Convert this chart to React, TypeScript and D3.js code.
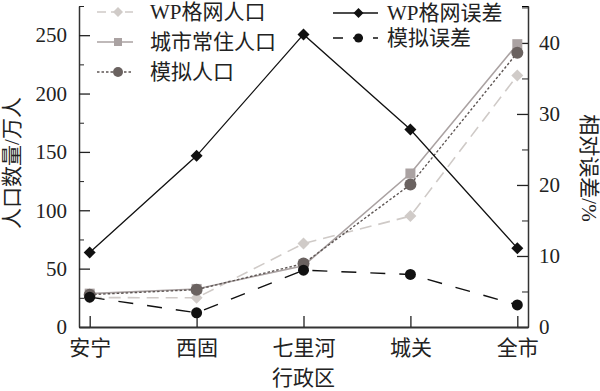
import React, { useEffect, useRef } from 'react'
import * as d3 from 'd3'

// data section
const districts = ['安宁', '西固', '七里河', '城关', '全市']
const wpPop = [25.2, 25, 71.5, 95, 215.5]
const cityPop = [28.6, 32.6, 52.5, 131.5, 242.3]
const simPop = [27.7, 32, 54.3, 122, 235]
const wpErr = [10.5, 24.1, 41.2, 27.8, 11.1]
const simErr = [4.2, 2.0, 8.0, 7.4, 3.1]
const leftTicks = [0, 50, 100, 150, 200, 250]
const rightTicks = [0, 10, 20, 30, 40]

const FONT = '"Liberation Serif", "Noto Sans CJK SC", serif'

const App = () => {
  const svgRef = useRef(null)
  const width = 600
  const height = 391
  const margin = { top: 6, right: 72, bottom: 64, left: 79 }
  const innerWidth = width - margin.left - margin.right
  const innerHeight = height - margin.top - margin.bottom

  useEffect(() => {
    const svg = d3.select(svgRef.current)
    svg.selectAll('*').remove()
    const chart = svg.append('g').attr('transform', `translate(${margin.left}, ${margin.top})`)

    const xScale = d3.scalePoint().domain(districts).range([0, innerWidth]).padding(0.1)
    const yLeft = d3.scaleLinear().domain([0, 275]).range([innerHeight, 0])
    const yRight = d3.scaleLinear().domain([0, 45.2]).range([innerHeight, 0])

    // minor ticks
    chart.append('g').call(d3.axisLeft(yLeft).tickValues([25, 75, 125, 175, 225, 275]).tickSize(-5).tickFormat(() => ''))
    chart
      .append('g')
      .attr('transform', `translate(${innerWidth}, 0)`)
      .call(d3.axisRight(yRight).tickValues([5, 15, 25, 35, 45]).tickSize(-6).tickFormat(() => ''))

    // main axes
    const yLeftG = chart
      .append('g')
      .call(d3.axisLeft(yLeft).tickValues(leftTicks).tickSizeInner(-11).tickSizeOuter(0).tickPadding(12))
    const yRightG = chart
      .append('g')
      .attr('transform', `translate(${innerWidth}, 0)`)
      .call(d3.axisRight(yRight).tickValues(rightTicks).tickSizeInner(-11).tickSizeOuter(0).tickPadding(11))
    const xG = chart
      .append('g')
      .attr('transform', `translate(0, ${innerHeight})`)
      .call(d3.axisBottom(xScale).tickSizeInner(-11).tickSizeOuter(0).tickPadding(13))

    ;[yLeftG, yRightG, xG].forEach((g) => {
      g.selectAll('text').attr('font-family', FONT).attr('font-size', 21).attr('fill', '#222')
      g.selectAll('line').attr('stroke', '#222').attr('stroke-width', 1.3)
      g.select('.domain').attr('stroke', '#333').attr('stroke-width', 1.5)
    })
    xG.select('.domain').attr('stroke-width', 2.2)
    chart.selectAll('.tick line').attr('stroke', '#222')

    const drawSeries = (values, yScale, opts) => {
      const line = d3
        .line()
        .x((d, i) => xScale(districts[i]))
        .y((d) => yScale(d))
      chart
        .append('path')
        .datum(values)
        .attr('d', line)
        .attr('fill', 'none')
        .attr('stroke', opts.color)
        .attr('stroke-width', opts.width)
        .attr('stroke-dasharray', opts.dash)
      const pts = values.map((v, i) => [xScale(districts[i]), yScale(v)])
      drawMarkers(chart, pts, opts)
    }

    const drawMarkers = (g, pts, opts) => {
      pts.forEach(([x, y]) => {
        if (opts.shape === 'circle') {
          g.append('circle').attr('cx', x).attr('cy', y).attr('r', opts.size).attr('fill', opts.mColor)
        } else if (opts.shape === 'square') {
          g.append('rect')
            .attr('x', x - opts.size)
            .attr('y', y - opts.size)
            .attr('width', opts.size * 2)
            .attr('height', opts.size * 2)
            .attr('fill', opts.mColor)
        } else {
          const s = opts.size
          g.append('path')
            .attr('d', `M${x},${y - s}L${x + s},${y}L${x},${y + s}L${x - s},${y}Z`)
            .attr('fill', opts.mColor)
        }
      })
    }

    const series = [
      { name: 'WP格网人口', values: wpPop, scale: yLeft, color: '#cfcac7', mColor: '#d0cbc8', width: 1.6, dash: '12,7', shape: 'diamond', size: 6 },
      { name: '城市常住人口', values: cityPop, scale: yLeft, color: '#aaa2a2', mColor: '#aaa2a2', width: 1.6, dash: null, shape: 'square', size: 5 },
      { name: '模拟人口', values: simPop, scale: yLeft, color: '#5e5654', mColor: '#6a6260', width: 1.4, dash: '2.5,2', shape: 'circle', size: 6 },
      { name: 'WP格网误差', values: wpErr, scale: yRight, color: '#111', mColor: '#111', width: 1.3, dash: null, shape: 'diamond', size: 6 },
      { name: '模拟误差', values: simErr, scale: yRight, color: '#111', mColor: '#111', width: 1.4, dash: '15,14', shape: 'circle', size: 5.5 },
    ]
    series.forEach((s) => drawSeries(s.values, s.scale, s))

    // legend
    const legendPos = [
      { x: 97, y: 12 },
      { x: 97, y: 42 },
      { x: 97, y: 72 },
      { x: 333, y: 13 },
      { x: 333, y: 38 },
    ]
    series.forEach((s, i) => {
      const p = legendPos[i]
      const lw = i < 3 ? 36 : 45
      const lg = svg.append('g').attr('transform', `translate(${p.x}, ${p.y})`)
      lg.append('line')
        .attr('x1', 0)
        .attr('x2', lw)
        .attr('stroke', s.color)
        .attr('stroke-width', s.width)
        .attr('stroke-dasharray', i === 0 ? '9,5' : i === 4 ? '10,10' : s.dash)
      drawMarkers(lg, [[lw / 2 + 3, 0]], { ...s, size: s.size - 1 })
      lg.append('text')
        .attr('x', lw + 17 - (i < 3 ? 0 : 8))
        .attr('y', 0)
        .attr('dy', '0.35em')
        .attr('font-family', FONT)
        .attr('font-size', 21)
        .attr('fill', '#222')
        .text(s.name)
    })

    // axis titles
    svg.append('text')
      .attr('transform', `translate(12, 163) rotate(-90)`)
      .attr('text-anchor', 'middle')
      .attr('dy', '0.35em')
      .attr('font-family', FONT)
      .attr('font-size', 21)
      .attr('fill', '#222')
      .text('人口数量/万人')
    svg.append('text')
      .attr('transform', `translate(589, 168) rotate(90)`)
      .attr('text-anchor', 'middle')
      .attr('dy', '0.35em')
      .attr('font-family', FONT)
      .attr('font-size', 21)
      .attr('fill', '#222')
      .text('相对误差/%')
    svg.append('text')
      .attr('x', margin.left + xScale('七里河'))
      .attr('y', 378)
      .attr('text-anchor', 'middle')
      .attr('dy', '0.35em')
      .attr('font-family', FONT)
      .attr('font-size', 21)
      .attr('fill', '#222')
      .text('行政区')
  }, [])

  return (
    <svg
      ref={svgRef}
      width={width}
      height={height}
      style={{ position: 'absolute', left: 0, top: 0, background: '#fff' }}
    />
  )
}

export default App
